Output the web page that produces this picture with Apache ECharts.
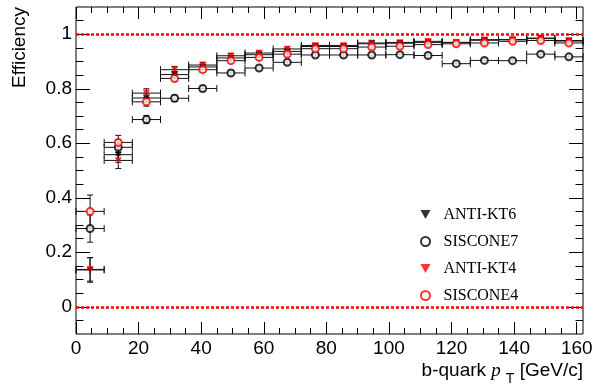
<!DOCTYPE html>
<html>
<head>
<meta charset="utf-8">
<script src="https://cdn.jsdelivr.net/npm/echarts@6/dist/echarts.min.js"></script>
<style>
  html, body { margin: 0; padding: 0; background: #fff; }
  #chart { width: 600px; height: 388px; }
</style>
</head>
<body>
<div id="chart"></div>
<script>
// b-quark pT bins (GeV/c)
const binLow    = [0, 9, 18, 27, 36, 45, 54, 63, 72, 81, 90, 99, 108, 117, 126, 135, 144, 153];
const binHigh   = [9, 18, 27, 36, 45, 54, 63, 72, 81, 90, 99, 108, 117, 126, 135, 144, 153, 162];
const binCenter = [4.5, 13.5, 22.5, 31.5, 40.5, 49.5, 58.5, 67.5, 76.5, 85.5, 94.5, 103.5, 112.5, 121.5, 130.5, 139.5, 148.5, 157.5];

// Efficiency per jet algorithm
const antiKt6  = [0.135, 0.558, 0.766, 0.852, 0.880, 0.913, 0.925, 0.937, 0.955, 0.955, 0.968, 0.967, 0.970, 0.970, 0.978, 0.980, 0.986, 0.975];
const sisCone7 = [0.287, 0.585, 0.687, 0.765, 0.801, 0.858, 0.876, 0.897, 0.924, 0.924, 0.924, 0.925, 0.922, 0.892, 0.904, 0.903, 0.927, 0.917];
const antiKt4  = [0.137, 0.537, 0.784, 0.870, 0.887, 0.921, 0.931, 0.946, 0.959, 0.959, 0.965, 0.970, 0.974, 0.970, 0.980, 0.980, 0.984, 0.977];
const sisCone4 = [0.350, 0.603, 0.752, 0.838, 0.870, 0.903, 0.915, 0.927, 0.947, 0.947, 0.953, 0.956, 0.962, 0.965, 0.968, 0.974, 0.977, 0.968];

// Statistical uncertainties
const antiKt6Err  = [0.045, 0.028, 0.015, 0.012, 0.010, 0.008, 0.008, 0.007, 0.006, 0.006, 0.006, 0.006, 0.005, 0.005, 0.005, 0.005, 0.005, 0.005];
const sisCone7Err = [0.050, 0.028, 0.015, 0.012, 0.010, 0.009, 0.008, 0.008, 0.007, 0.007, 0.007, 0.007, 0.007, 0.007, 0.007, 0.007, 0.007, 0.007];
const antiKt4Err  = [0.043, 0.030, 0.016, 0.012, 0.010, 0.008, 0.008, 0.007, 0.006, 0.006, 0.006, 0.006, 0.005, 0.005, 0.005, 0.005, 0.005, 0.005];
const sisCone4Err = [0.060, 0.026, 0.016, 0.012, 0.010, 0.009, 0.008, 0.008, 0.007, 0.007, 0.007, 0.007, 0.006, 0.006, 0.006, 0.006, 0.006, 0.006];

const seriesNames = ['ANTI-KT6', 'SISCONE7', 'ANTI-KT4', 'SISCONE4'];

// Reference efficiency levels
const refLevels = [0, 1];

// Axis ticks
const xMajorTicks = [0, 20, 40, 60, 80, 100, 120, 140, 160];
const xMinorTicks = [5, 10, 15, 25, 30, 35, 45, 50, 55, 65, 70, 75, 85, 90, 95, 105, 110, 115, 125, 130, 135, 145, 150, 155];
const yMajorTicks = [0, 0.2, 0.4, 0.6, 0.8, 1];
const yMinorTicks = [-0.05, 0.05, 0.1, 0.15, 0.25, 0.3, 0.35, 0.45, 0.5, 0.55, 0.65, 0.7, 0.75, 0.85, 0.9, 0.95, 1.05];

const X_MIN = 0, X_MAX = 162, Y_MIN = -0.1, Y_MAX = 1.1;
const SANS = 'Liberation Sans, Arial, sans-serif';
const SERIF = 'Liberation Serif, Times New Roman, serif';

function makeXAxis(position, ticks, len, labels) {
  return {
    type: 'value', min: X_MIN, max: X_MAX, position: position,
    axisLine: { show: false, onZero: false }, splitLine: { show: false },
    axisTick: { show: true, inside: true, length: len, customValues: ticks, lineStyle: { color: '#000', width: 1 } },
    axisLabel: labels ? { show: true, customValues: ticks, margin: 5, fontSize: 19, fontFamily: SANS, color: '#000' } : { show: false }
  };
}
function makeYAxis(position, ticks, len, labels) {
  return {
    type: 'value', min: Y_MIN, max: Y_MAX, position: position,
    axisLine: { show: false, onZero: false }, splitLine: { show: false },
    axisTick: { show: true, inside: true, length: len, customValues: ticks, lineStyle: { color: '#000', width: 1 } },
    axisLabel: labels ? { show: true, customValues: ticks, margin: 4, fontSize: 19, fontFamily: SANS, color: '#000' } : { show: false }
  };
}

// Error bars: horizontal bin width and vertical uncertainty, with end caps
function errorBarSeries(values, errs) {
  const data = values.map((v, i) => [binCenter[i], v, binLow[i], binHigh[i], errs[i]]);
  return {
    type: 'custom', xAxisIndex: 0, yAxisIndex: 0, z: 2, silent: true,
    data: data,
    encode: { x: [0, 2, 3], y: 1 },
    renderItem: function (params, api) {
      const xc = api.value(0), y = api.value(1), lo = api.value(2), hi = api.value(3), e = api.value(4);
      const pC = api.coord([xc, y]);
      const pL = api.coord([lo, y]);
      const pH = api.coord([hi, y]);
      const pT = api.coord([xc, y + e]);
      const pB = api.coord([xc, y - e]);
      const st = { stroke: '#111', lineWidth: 1 };
      const cap = 3.5, vcap = 3;
      return {
        type: 'group',
        children: [
          { type: 'line', shape: { x1: pL[0], y1: pC[1], x2: pH[0], y2: pC[1] }, style: st },
          { type: 'line', shape: { x1: pL[0], y1: pC[1] - cap, x2: pL[0], y2: pC[1] + cap }, style: st },
          { type: 'line', shape: { x1: pH[0], y1: pC[1] - cap, x2: pH[0], y2: pC[1] + cap }, style: st },
          { type: 'line', shape: { x1: pC[0], y1: pT[1], x2: pC[0], y2: pB[1] }, style: st },
          { type: 'line', shape: { x1: pC[0] - vcap, y1: pT[1], x2: pC[0] + vcap, y2: pT[1] }, style: st },
          { type: 'line', shape: { x1: pC[0] - vcap, y1: pB[1], x2: pC[0] + vcap, y2: pB[1] }, style: st }
        ]
      };
    }
  };
}

const downTri = 'path://M0,0L10,0L5,9Z';

function markerSeries(name, values, color, hollow) {
  return {
    name: name, type: 'scatter', xAxisIndex: 0, yAxisIndex: 0, z: 3,
    data: values.map((v, i) => [binCenter[i], v]),
    symbol: hollow ? 'emptyCircle' : downTri,
    symbolSize: hollow ? 7 : [7, 6.5],
    itemStyle: hollow ? { color: color, borderColor: color, borderWidth: 1.2 } : { color: color },
    emphasis: { disabled: true }
  };
}

const chart = echarts.init(document.getElementById('chart'), null, { renderer: 'canvas' });

const option = {
  animation: false,
  backgroundColor: '#fff',
  grid: { left: 76, right: 17, top: 7, bottom: 54, show: true, borderColor: '#000', borderWidth: 1, backgroundColor: 'transparent' },
  xAxis: [
    makeXAxis('bottom', xMajorTicks, 12, true),
    makeXAxis('bottom', xMinorTicks, 6, false),
    makeXAxis('top', xMajorTicks, 12, false),
    makeXAxis('top', xMinorTicks, 6, false)
  ],
  yAxis: [
    makeYAxis('left', yMajorTicks, 14, true),
    makeYAxis('left', yMinorTicks, 7.5, false),
    makeYAxis('right', yMajorTicks, 14, false),
    makeYAxis('right', yMinorTicks, 7.5, false)
  ],
  legend: {
    orient: 'vertical', left: 415, top: 201,
    itemWidth: 26, itemHeight: 9, itemGap: 10,
    selectedMode: false,
    textStyle: { fontFamily: SERIF, fontSize: 16, color: '#000', lineHeight: 17 },
    data: [
      { name: seriesNames[0], icon: downTri },
      { name: seriesNames[1], icon: 'emptyCircle' },
      { name: seriesNames[2], icon: downTri },
      { name: seriesNames[3], icon: 'emptyCircle' }
    ]
  },
  graphic: [
    {
      type: 'text', right: 17, top: 361,
      style: {
        text: '{a|b-quark }{p|p}{s|T}{a| [GeV/c]}',
        fill: '#000',
        rich: {
          a: { fontFamily: SANS, fontSize: 19, lineHeight: 20, verticalAlign: 'top' },
          p: { fontFamily: SERIF, fontStyle: 'italic', fontSize: 19, lineHeight: 20, verticalAlign: 'top' },
          s: { fontFamily: SANS, fontSize: 14, lineHeight: 16, verticalAlign: 'top', padding: [11, 0, 0, 5] }
        }
      }
    },
    {
      type: 'text', x: 20, y: 7, rotation: Math.PI / 2,
      style: { text: 'Efficiency', fontFamily: SANS, fontSize: 19, fill: '#000', align: 'right', verticalAlign: 'middle' }
    }
  ],
  series: [
    errorBarSeries(antiKt6, antiKt6Err),
    errorBarSeries(sisCone7, sisCone7Err),
    errorBarSeries(antiKt4, antiKt4Err),
    errorBarSeries(sisCone4, sisCone4Err),
    Object.assign(markerSeries(seriesNames[0], antiKt6, '#000', false), {
      markLine: {
        silent: true, symbol: 'none', animation: false,
        label: { show: false },
        lineStyle: { color: '#ff0000', width: 2.5, type: [3, 2] },
        data: refLevels.map(v => ({ yAxis: v }))
      }
    }),
    markerSeries(seriesNames[1], sisCone7, '#000', true),
    markerSeries(seriesNames[2], antiKt4, '#ff0000', false),
    markerSeries(seriesNames[3], sisCone4, '#ff0000', true)
  ]
};

chart.setOption(option);
</script>
</body>
</html>
